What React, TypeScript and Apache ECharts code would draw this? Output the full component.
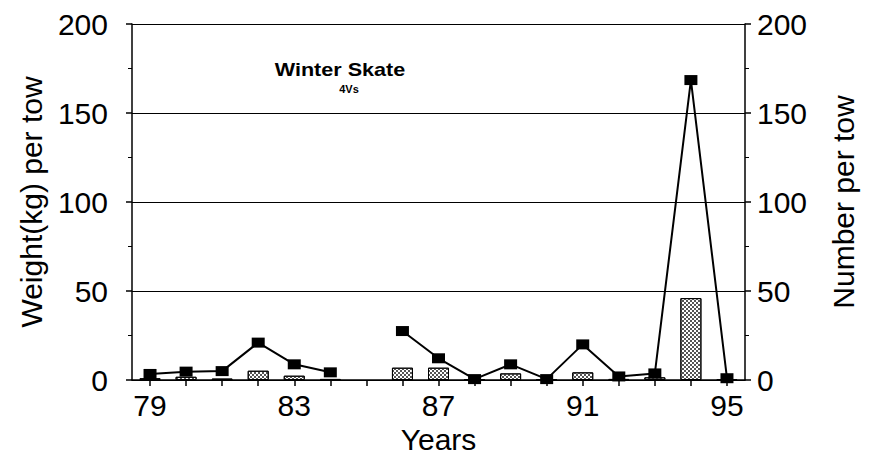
import React, { useEffect, useRef } from "react";
import * as echarts from "echarts";

const years = ["79","80","81","82","83","84","85","86","87","88","89","90","91","92","93","94","95"];
const weightPerTow = [1, 1.8, 0.8, 5.2, 2.4, 0.6, null, 6.9, 6.9, 0.3, 3.7, 0.3, 4.3, 0.6, 1.5, 46, 0.5];
const numberPerTow = [3.4, 4.7, 5, 21, 8.8, 4.3, null, 27.5, 12.2, 0.5, 8.8, 0.5, 20, 2, 3.7, 168.5, 1];

const FONT = "Liberation Sans, Arial, Helvetica, sans-serif";
const FS = 30;

export default function App() {
  const ref = useRef<HTMLDivElement>(null);
  useEffect(() => {
    if (!ref.current) return;
    const chart = echarts.init(ref.current, null, { renderer: "svg" });
    const yAxisCommon = {
      type: "value",
      min: 0,
      max: 200,
      interval: 50,
      axisLine: { show: true, lineStyle: { color: "#000", width: 1.5 } },
      axisTick: { show: true, length: 6, lineStyle: { color: "#000", width: 1.5 } },
      minorTick: { show: true, splitNumber: 2, length: 4, lineStyle: { color: "#000", width: 1 } },
      nameLocation: "middle",
      nameTextStyle: { color: "#000", fontSize: FS, fontFamily: FONT },
    };
    chart.setOption({
      animation: false,
      backgroundColor: "#fff",
      grid: { left: 132, right: 129, top: 24, bottom: 81 },
      graphic: [
        {
          type: "text",
          x: 340,
          y: 70,
          scaleX: 1.2,
          style: {
            text: "Winter Skate",
            font: `bold 18px ${FONT}`,
            fill: "#000",
            align: "center",
            verticalAlign: "middle",
          },
        },
        {
          type: "text",
          x: 349,
          y: 89,
          style: {
            text: "4Vs",
            font: `bold 11px ${FONT}`,
            fill: "#000",
            align: "center",
            verticalAlign: "middle",
          },
        },
      ],
      xAxis: {
        type: "category",
        data: years,
        boundaryGap: true,
        name: "Years",
        nameLocation: "middle",
        nameGap: 37,
        nameTextStyle: { color: "#000", fontSize: FS, fontFamily: FONT },
        axisLine: { show: true, lineStyle: { color: "#000", width: 1.5 } },
        axisTick: { show: true, alignWithLabel: true, interval: 0, length: 6, lineStyle: { color: "#000", width: 1.5 } },
        axisLabel: { interval: 3, color: "#000", fontSize: FS, fontFamily: FONT, margin: 10 },
        splitLine: { show: false },
      },
      yAxis: [
        {
          ...yAxisCommon,
          position: "left",
          name: "Weight(kg) per tow",
          nameGap: 86,
          axisLabel: { color: "#000", fontSize: FS, fontFamily: FONT, margin: 24 },
          splitLine: { show: true, lineStyle: { color: "#000", width: 1.2 } },
        },
        {
          ...yAxisCommon,
          position: "right",
          name: "Number per tow",
          nameGap: 83,
          axisLabel: { color: "#000", fontSize: FS, fontFamily: FONT, margin: 12 },
          splitLine: { show: false },
        },
      ],
      series: [
        {
          type: "bar",
          data: weightPerTow,
          yAxisIndex: 0,
          barWidth: 21,
          itemStyle: {
            color: "#fff",
            borderColor: "#000",
            borderWidth: 1,
            decal: {
              symbol: "rect",
              symbolSize: 1,
              color: "#555",
              dashArrayX: [[1.5, 1.5], [0, 1.5, 1.5, 0]],
              dashArrayY: [1.5, 0],
            },
          },
          z: 2,
        },
        {
          type: "line",
          data: numberPerTow,
          yAxisIndex: 1,
          connectNulls: false,
          symbol: "rect",
          symbolSize: [13, 10],
          lineStyle: { color: "#000", width: 2 },
          itemStyle: { color: "#000" },
          z: 3,
        },
      ],
    });
    return () => chart.dispose();
  }, []);
  return (
    <div
      ref={ref}
      style={{ position: "fixed", left: 0, top: 0, width: 874, height: 461 }}
    />
  );
}
